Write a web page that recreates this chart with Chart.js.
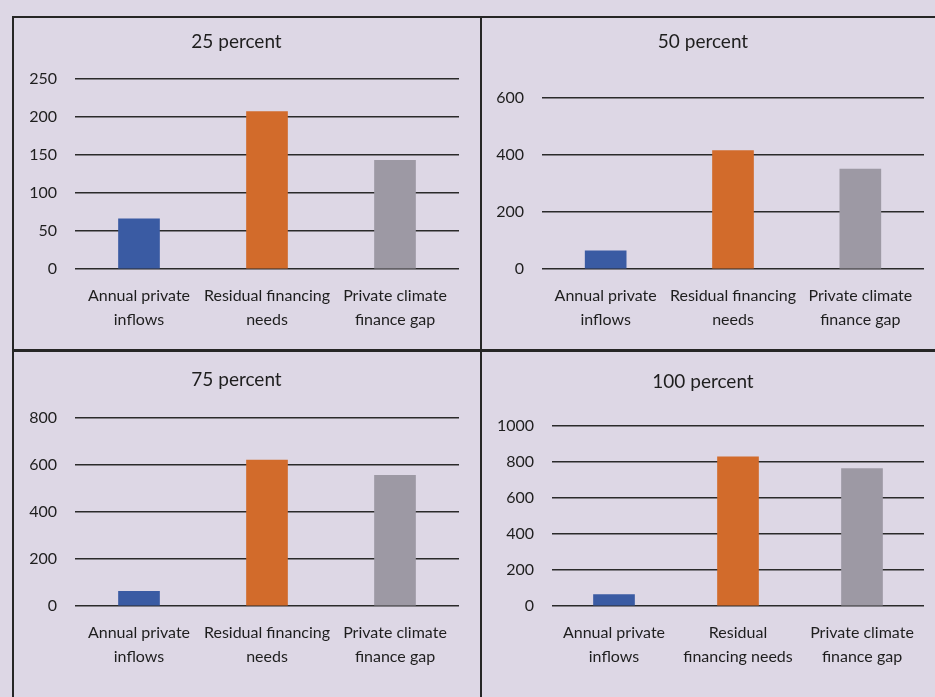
<!DOCTYPE html>
<html>
<head>
<meta charset="utf-8">
<script src="https://cdn.jsdelivr.net/npm/chart.js@4"></script>
<style>
  body { margin: 0; background: #ddd7e5; width: 935px; height: 697px; overflow: hidden; position: relative; font-family: Lato, sans-serif; }
  canvas { position: absolute; }
  .line { position: absolute; background: #262626; }
</style>
</head>
<body>
<div class="line" style="left:12px;top:16px;width:923px;height:2px"></div>
<div class="line" style="left:12px;top:16px;width:2px;height:681px"></div>
<div class="line" style="left:480px;top:16px;width:2px;height:681px"></div>
<div class="line" style="left:12px;top:349px;width:923px;height:3px"></div>
<canvas id="c0" width="466" height="330" style="left:14px;top:18px"></canvas>
<canvas id="c1" width="453" height="330" style="left:482px;top:18px"></canvas>
<canvas id="c2" width="466" height="345" style="left:14px;top:352px"></canvas>
<canvas id="c3" width="453" height="345" style="left:482px;top:352px"></canvas>
<script>
// data
var panelTitles = ['25 percent', '50 percent', '75 percent', '100 percent'];
var categories = [['Annual private', 'inflows'], ['Residual financing', 'needs'], ['Private climate', 'finance gap']];
var categories100 = [['Annual private', 'inflows'], ['Residual', 'financing needs'], ['Private climate', 'finance gap']];
var inflows = [66, 64, 62, 63];
var residualNeeds = [207, 415, 620, 828];
var financeGap = [143, 350, 555, 762];
var yMax = [250, 600, 800, 1000];
var yStep = [50, 200, 200, 200];

var barColors = ['#3a5ba3', '#d26b2b', '#9d99a4'];
var textColor = '#1e1e1e';

// plot-area placement of each panel
var layoutOpts = [
    { yWidth: 61, right: 21, titleTop: 12, titleBottom: 26, xHeight: 79 },
    { yWidth: 60, right: 11, titleTop: 12, titleBottom: 45, xHeight: 79 },
    { yWidth: 61, right: 21, titleTop: 16, titleBottom: 27, xHeight: 91 },
    { yWidth: 70, right: 11, titleTop: 18, titleBottom: 33, xHeight: 91 }
];

function makeChart(i) {
    var lo = layoutOpts[i];
    var ctx = document.getElementById('c' + i).getContext('2d');
    return new Chart(ctx, {
        type: 'bar',
        data: {
            labels: i === 3 ? categories100 : categories,
            datasets: [{
                data: [inflows[i], residualNeeds[i], financeGap[i]],
                backgroundColor: barColors,
                barThickness: 41
            }]
        },
        options: {
            responsive: false,
            animation: false,
            layout: { padding: { left: 0, right: lo.right, top: 0, bottom: 0 } },
            plugins: {
                legend: { display: false },
                tooltip: { enabled: false },
                title: {
                    display: true,
                    text: panelTitles[i],
                    color: textColor,
                    font: { family: 'Lato', size: 19, weight: 'normal', lineHeight: 1.2 },
                    padding: { top: lo.titleTop, bottom: lo.titleBottom }
                }
            },
            scales: {
                x: {
                    grid: { display: false, drawTicks: false },
                    border: { display: false },
                    ticks: {
                        color: textColor,
                        padding: 15,
                        maxRotation: 0,
                        autoSkip: false,
                        font: { family: 'Lato', size: 16, lineHeight: 1.5 }
                    },
                    afterFit: function (axis) { axis.height = lo.xHeight; }
                },
                y: {
                    min: 0,
                    max: yMax[i],
                    grid: { color: '#2a2a2a', lineWidth: 1.5, drawTicks: false },
                    border: { display: false },
                    ticks: {
                        stepSize: yStep[i],
                        color: textColor,
                        padding: 18,
                        font: { family: 'Lato', size: 16 },
                        callback: function (v) { return String(v); }
                    },
                    afterFit: function (axis) { axis.width = lo.yWidth; }
                }
            }
        }
    });
}

document.addEventListener('DOMContentLoaded', function () {
    for (var i = 0; i < 4; i++) {
        makeChart(i);
    }
});
</script>
</body>
</html>
